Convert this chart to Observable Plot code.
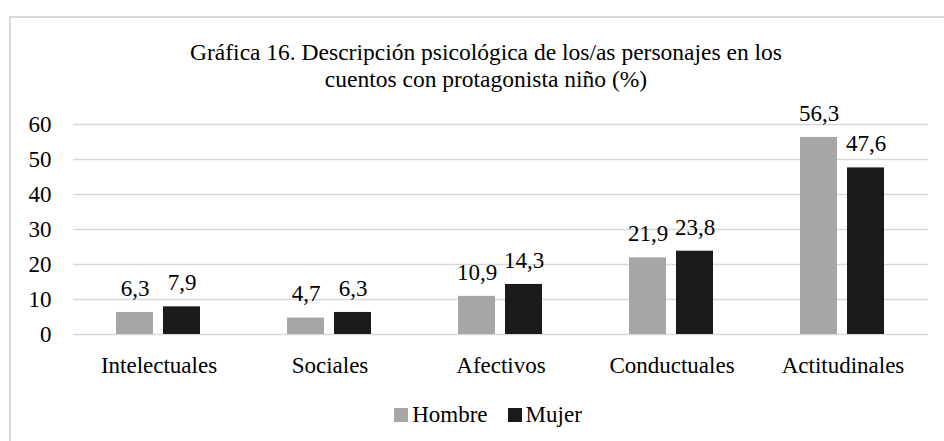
<!DOCTYPE html>
<html>
<head>
<meta charset="utf-8">
<script src="https://cdn.jsdelivr.net/npm/d3@7"></script>
<script src="https://cdn.jsdelivr.net/npm/@observablehq/plot@0.6"></script>
<style>
  html, body { margin: 0; padding: 0; background: #fff; }
  #wrap { position: relative; width: 944px; height: 441px; overflow: hidden; font-family: "Liberation Serif", "Times New Roman", serif; color: #000; }
  #frame { position: absolute; left: 9px; top: 16px; width: 1000px; height: 1000px; border-left: 2px solid #d9d9d9; border-top: 2px solid #d9d9d9; box-sizing: border-box; }
  #title { position: relative; box-sizing: border-box; height: 95px; padding-top: 39px; width: 954px; margin-left: 9px; text-align: center; font-size: 23.5px; line-height: 27px; }
  #chart { position: relative; height: 300px; }
  #legend { position: relative; box-sizing: border-box; width: 944px; padding-left: 32px; height: 40px; display: flex; justify-content: center; align-items: center; font-size: 23px; }
  .item { display: inline-flex; align-items: baseline; }
  .sw { display: inline-block; width: 14px; height: 14px; margin-right: 4px; }
</style>
</head>
<body>
<div id="wrap">
  <div id="frame"></div>
  <div id="title">Gráfica 16. Descripción psicológica de los/as personajes en los<br>cuentos con protagonista niño (%)</div>
  <div id="chart"></div>
  <div id="legend"></div>
</div>
<script>
const categories = ["Intelectuales", "Sociales", "Afectivos", "Conductuales", "Actitudinales"];
const series = ["Hombre", "Mujer"];
const hombre = [6.3, 4.7, 10.9, 21.9, 56.3];
const mujer = [7.9, 6.3, 14.3, 23.8, 47.6];
const colors = ["#a6a6a6", "#1b1b1b"];
const yTicks = [0, 10, 20, 30, 40, 50, 60];

const data = [];
categories.forEach((c, i) => {
  data.push({cat: c, sex: series[0], value: hombre[i]});
  data.push({cat: c, sex: series[1], value: mujer[i]});
});
const fmt = v => v.toFixed(1).replace(".", ",");

const plot = Plot.plot({
  width: 944,
  height: 300,
  marginLeft: 72,
  marginRight: 16,
  marginTop: 29,
  marginBottom: 61,
  style: {fontFamily: "'Liberation Serif', 'Times New Roman', serif", fontSize: "23px", color: "#000", background: "transparent", overflow: "visible"},
  fx: {domain: categories, padding: 0, label: null},
  x: {domain: series, paddingInner: 0.208, paddingOuter: 0.8875, axis: null},
  y: {domain: [0, 60], label: null},
  color: {domain: series, range: colors},
  marks: [
    Plot.gridY(yTicks, {stroke: "#d9d9d9", strokeOpacity: 1, strokeWidth: 1.5}),
    Plot.axisY(yTicks, {tickSize: 0, tickPadding: 22, label: null, fontSize: 23}),
    Plot.axisFx({anchor: "bottom", tickSize: 0, tickPadding: 22, label: null, fontSize: 23}),
    Plot.barY(data, {fx: "cat", x: "sex", y: "value", fill: "sex"}),
    Plot.text(data, {fx: "cat", x: "sex", y: "value", text: d => fmt(d.value), dy: -24, fontSize: 23, fill: "#000"})
  ]
});
document.getElementById("chart").appendChild(plot);

const legend = document.getElementById("legend");
series.forEach((s, i) => {
  const item = document.createElement("span");
  item.className = "item";
  if (i > 0) item.style.marginLeft = "20px";
  const sw = document.createElement("span");
  sw.className = "sw";
  sw.style.background = colors[i];
  item.appendChild(sw);
  item.appendChild(document.createTextNode(s));
  legend.appendChild(item);
});
</script>
</body>
</html>
